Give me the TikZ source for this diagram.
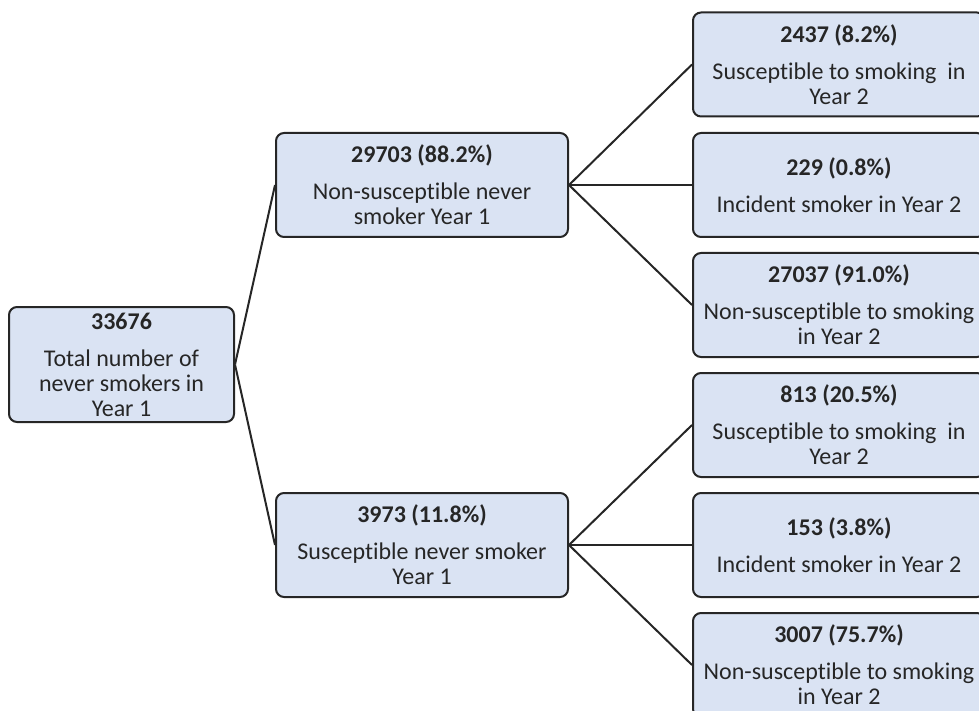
\documentclass[tikz,border=0pt]{standalone}
\usepackage{fontspec}
\setmainfont{Carlito}[Ligatures=NoCommon]
\definecolor{boxfill}{RGB}{218,227,243}
\definecolor{boxline}{RGB}{38,38,38}
\definecolor{txt}{RGB}{38,38,38}
\begin{document}
\begin{tikzpicture}[x=1pt,y=-1pt,
  box/.style={draw=boxline, fill=boxfill, line width=2pt, rounded corners=8pt,
    inner sep=0pt, align=center, text=txt,
    font=\fontsize{24}{25}\selectfont},
  mbox/.style={box, minimum width=292pt, minimum height=104pt},
  conn/.style={draw=boxline, line width=2pt}]
\useasboundingbox (0,0) rectangle (979,711);
\clip (0,0) rectangle (979,711);
\node[box, minimum width=225pt, minimum height=115pt] (root) at (121.5,364.5)
  {\textbf{33676}\\[12pt]Total number of\\never smokers in\\Year 1};
\node[mbox] (m1) at (422,185)
  {\textbf{29703 (88.2\%)}\\[12pt]Non-susceptible never\\smoker Year 1};
\node[mbox] (m2) at (422,545)
  {\textbf{3973 (11.8\%)}\\[12pt]Susceptible never smoker\\Year 1};
\node[mbox] (r1) at (839,64.5)
  {\textbf{2437 (8.2\%)}\\[12pt]Susceptible to smoking\ \ in\\Year 2};
\node[mbox] (r2) at (839,185)
  {\textbf{229 (0.8\%)}\\[12pt]Incident smoker in Year 2};
\node[mbox] (r3) at (839,305)
  {\textbf{27037 (91.0\%)}\\[12pt]Non-susceptible to smoking\\in Year 2};
\node[mbox] (r4) at (839,425)
  {\textbf{813 (20.5\%)}\\[12pt]Susceptible to smoking\ \ in\\Year 2};
\node[mbox] (r5) at (839,545)
  {\textbf{153 (3.8\%)}\\[12pt]Incident smoker in Year 2};
\node[mbox] (r6) at (839,665)
  {\textbf{3007 (75.7\%)}\\[12pt]Non-susceptible to smoking\\in Year 2};
\draw[conn] (root.east) -- (m1.west);
\draw[conn] (root.east) -- (m2.west);
\draw[conn] (m1.east) -- (r1.west);
\draw[conn] (m1.east) -- (r2.west);
\draw[conn] (m1.east) -- (r3.west);
\draw[conn] (m2.east) -- (r4.west);
\draw[conn] (m2.east) -- (r5.west);
\draw[conn] (m2.east) -- (r6.west);
\end{tikzpicture}
\end{document}
